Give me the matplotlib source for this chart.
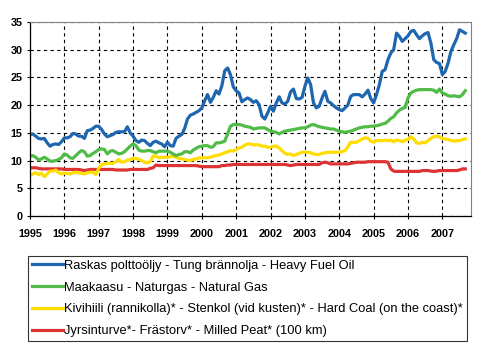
import numpy as np
import matplotlib.pyplot as plt
from matplotlib.lines import Line2D

plt.rcParams['font.family'] = ['Liberation Sans', 'DejaVu Sans']

years = [str(y) for y in range(1995, 2008)]

# monthly values, Jan 1995 .. Sep 2007
heavy_fuel_oil = [
    14.7, 14.8, 14.4, 14.0, 13.9, 14.0, 13.2, 12.6, 12.9, 13.0, 12.9, 13.4,
    14.1, 14.1, 14.3, 14.9, 14.8, 14.4, 14.4, 14.0, 15.4, 15.5, 15.8, 16.2,
    16.2, 15.6, 14.8, 14.3, 14.5, 14.7, 15.1, 15.2, 15.2, 15.2, 16.1, 15.0,
    14.4, 13.6, 13.3, 13.7, 13.6, 13.1, 12.7, 13.3, 13.5, 13.2, 13.0, 12.5,
    13.3, 12.7, 12.6, 14.0, 14.4, 14.7, 15.8, 17.5, 18.2, 18.4, 18.7, 19.0,
    19.5, 20.8, 21.9, 20.5, 21.4, 22.6, 22.0, 23.5, 26.2, 26.7, 25.5, 23.3,
    22.6, 22.2, 20.6, 21.0, 21.3, 21.0, 20.5, 20.8, 20.1, 18.0, 17.5, 18.6,
    19.8, 18.9, 20.4, 21.5, 20.4, 20.2, 20.7, 22.4, 22.9, 21.2, 21.1, 21.4,
    23.4, 24.9, 23.7, 20.4, 19.5, 19.8, 21.3, 22.5, 20.7, 20.4, 19.9, 19.5,
    19.2, 19.0, 19.5, 20.0, 21.6, 21.9, 21.9, 21.9, 21.5, 22.0, 22.7, 21.2,
    20.4, 21.9, 23.7, 26.1, 26.4, 28.2, 29.4, 30.0, 33.0, 32.4, 31.5, 32.0,
    32.5, 33.3, 33.5, 32.7, 32.0, 32.5, 32.9, 33.1, 31.2, 28.2, 27.7, 27.5,
    25.5, 26.1, 27.6, 29.7, 30.9, 32.0, 33.6, 33.3, 33.0,
]
natural_gas = [
    10.8, 10.9, 10.6, 10.1, 10.3, 10.6, 10.3, 9.9, 9.9, 10.0, 10.2, 10.5,
    11.2, 11.0, 10.5, 10.4, 10.9, 11.4, 11.8, 11.6, 10.8, 10.9, 11.3, 11.6,
    12.0, 12.1, 12.0, 11.2, 11.7, 11.8, 11.5, 11.2, 11.3, 11.6, 12.1, 12.6,
    13.0, 12.7, 11.9, 11.7, 11.7, 11.8, 11.8, 11.6, 11.4, 11.7, 11.7, 11.7,
    11.7, 11.5, 11.2, 10.9, 11.1, 11.2, 11.6, 11.6, 11.4, 11.9, 12.2, 12.5,
    12.6, 12.7, 12.7, 12.4, 12.5, 13.2, 13.2, 13.3, 13.5, 14.8, 16.2, 16.5,
    16.5, 16.5, 16.4, 16.2, 16.1, 16.0, 15.7, 15.8, 15.9, 15.9, 15.9, 15.6,
    15.3, 15.2, 15.1, 14.8, 15.1, 15.3, 15.4, 15.5, 15.6, 15.7, 15.8, 15.9,
    15.9, 16.1, 16.4, 16.5, 16.3, 16.1, 16.0, 15.9, 15.8, 15.7, 15.7, 15.5,
    15.3, 15.2, 15.1, 15.2, 15.3, 15.5, 15.7, 15.9, 16.0, 16.1, 16.1, 16.2,
    16.2, 16.3, 16.4, 16.6, 16.7, 17.1, 17.6, 17.9, 18.6, 19.1, 19.4, 19.6,
    21.3, 22.2, 22.5, 22.7, 22.8, 22.8, 22.8, 22.8, 22.8, 22.7, 22.3, 22.9,
    22.2, 22.0, 21.7, 21.6, 21.7, 21.6, 21.5, 21.9, 22.6,
]
hard_coal = [
    7.3, 7.6, 7.8, 7.5, 7.7, 7.1, 7.6, 8.1, 8.1, 8.3, 7.8, 7.6,
    7.7, 7.7, 7.6, 7.8, 7.9, 7.8, 7.7, 7.6, 7.8, 7.9, 7.9, 7.5,
    8.6, 9.3, 9.4, 9.5, 9.5, 9.5, 9.8, 10.2, 9.7, 9.8, 10.1, 10.2,
    10.4, 10.4, 10.2, 10.0, 9.7, 9.6, 9.8, 10.8, 10.8, 10.5, 10.6, 10.6,
    10.6, 10.7, 10.8, 10.6, 10.4, 10.3, 10.2, 10.1, 10.0, 10.2, 10.3, 10.5,
    10.5, 10.5, 10.5, 10.6, 10.8, 10.9, 11.0, 11.2, 11.4, 11.6, 11.8, 11.7,
    12.0, 12.3, 12.4, 12.8, 13.0, 13.0, 12.8, 12.9, 12.8, 12.6, 12.6, 12.4,
    12.4, 12.6, 12.6, 12.3, 11.8, 11.3, 11.1, 11.2, 10.9, 11.1, 11.3, 11.5,
    11.5, 11.5, 11.4, 11.2, 11.1, 11.1, 11.3, 11.4, 11.5, 11.5, 11.5, 11.5,
    11.5, 11.6, 11.8, 12.5, 13.3, 13.3, 13.3, 13.6, 13.9, 14.1, 14.0, 13.5,
    13.3, 13.6, 13.6, 13.6, 13.7, 13.6, 13.7, 13.4, 13.7, 13.6, 13.4, 13.7,
    13.8, 14.3, 13.9, 13.2, 13.1, 13.3, 13.2, 13.6, 14.0, 14.3, 14.4, 14.3,
    13.9, 13.9, 13.8, 13.6, 13.5, 13.6, 13.6, 13.8, 13.9,
]
milled_peat = [
    8.7, 8.7, 8.7, 8.6, 8.5, 8.5, 8.5, 8.5, 8.5, 8.5, 8.5, 8.5,
    8.4, 8.4, 8.4, 8.4, 8.4, 8.4, 8.3, 8.2, 8.3, 8.4, 8.4, 8.4,
    8.4, 8.4, 8.4, 8.4, 8.4, 8.4, 8.3, 8.3, 8.3, 8.3, 8.3, 8.4,
    8.4, 8.4, 8.4, 8.4, 8.4, 8.4, 8.6, 8.7, 9.2, 9.1, 9.1, 9.1,
    9.1, 9.1, 9.1, 9.1, 9.1, 9.1, 9.1, 9.1, 9.1, 9.1, 9.1, 9.0,
    8.9, 8.9, 8.9, 8.9, 8.9, 8.9, 8.9, 9.1, 9.1, 9.2, 9.2, 9.3,
    9.3, 9.3, 9.3, 9.3, 9.3, 9.3, 9.3, 9.3, 9.3, 9.3, 9.3, 9.3,
    9.3, 9.3, 9.3, 9.3, 9.3, 9.3, 9.2, 9.1, 9.2, 9.3, 9.3, 9.3,
    9.3, 9.3, 9.3, 9.3, 9.3, 9.3, 9.6, 9.7, 9.6, 9.4, 9.4, 9.4,
    9.4, 9.4, 9.4, 9.4, 9.5, 9.6, 9.7, 9.7, 9.7, 9.7, 9.8, 9.8,
    9.8, 9.8, 9.8, 9.8, 9.8, 9.7, 8.5, 8.1, 8.05, 8.05, 8.05, 8.05,
    8.05, 8.05, 8.05, 8.05, 8.05, 8.2, 8.2, 8.2, 8.1, 8.05, 8.1, 8.2,
    8.2, 8.2, 8.2, 8.2, 8.2, 8.2, 8.3, 8.5, 8.5,
]

labels = [
    "Raskas polttoöljy - Tung brännolja - Heavy Fuel Oil",
    "Maakaasu - Naturgas - Natural Gas",
    "Kivihiili (rannikolla)* - Stenkol (vid kusten)* - Hard Coal (on the coast)*",
    "Jyrsinturve*- Frästorv* - Milled Peat* (100 km)",
]
colors = ["#1F66B0", "#50BB46", "#FFDD00", "#DD3333"]
series = [heavy_fuel_oil, natural_gas, hard_coal, milled_peat]

fig = plt.figure(figsize=(4.95, 3.51), dpi=100, facecolor='white')
ax = fig.add_axes([0.0606, 0.3846, 0.8909, 0.5527])

# draw the bottom series first so blue ends on top
for vals, col in zip(series[::-1], colors[::-1]):
    ax.plot(np.arange(len(vals)), vals, color=col, lw=2.3, solid_joinstyle='round')

ax.set_xlim(0, 154)
ax.set_ylim(0, 35)
ax.set_xticks(np.arange(0, 145, 12))
ax.set_xticklabels(years)
ax.set_yticks(np.arange(0, 36, 5))
ax.grid(True, color='black', linestyle=(0, (3, 3)), linewidth=0.8)
ax.set_axisbelow(True)
ax.tick_params(axis='both', direction='out', length=2.5, width=0.8, labelsize=7.8, colors='black')
ax.tick_params(axis='x', pad=7)
ax.tick_params(axis='y', pad=3)
for t in ax.get_xticklabels() + ax.get_yticklabels():
    t.set_fontweight('bold')
for s in ['top', 'right']:
    ax.spines[s].set_color('#808080')
for s in ['left', 'bottom']:
    ax.spines[s].set_color('black')
    ax.spines[s].set_linewidth(0.9)

handles = [Line2D([], [], color=c, lw=2.3) for c in colors]
leg = fig.legend(handles, labels, loc='upper left', bbox_to_anchor=(0.0566, 0.2707),
                 borderaxespad=0, frameon=True, fancybox=False, edgecolor='black',
                 fontsize=9.3, handlelength=2.4, handletextpad=0.1, borderpad=0.3,
                 labelspacing=0.75)
leg.get_frame().set_linewidth(0.8)

plt.savefig('out.png', dpi=100, facecolor='white')
